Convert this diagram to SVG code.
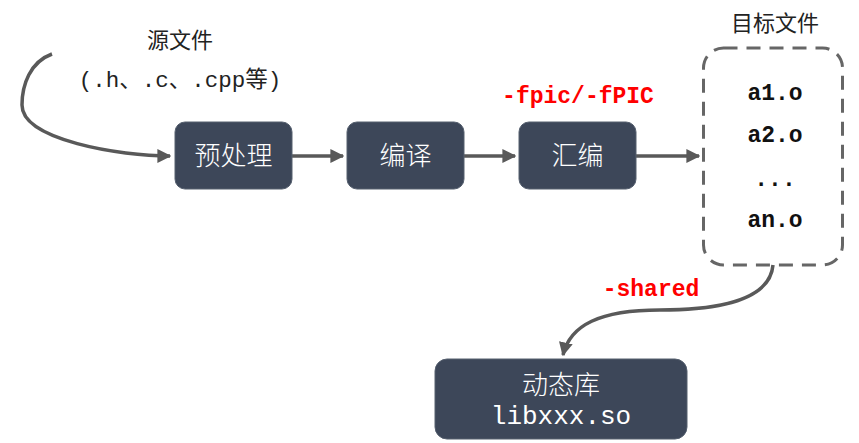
<svg xmlns="http://www.w3.org/2000/svg" width="859" height="443" viewBox="0 0 859 443">
<style>
.box{fill:#3d4759;stroke:#56606f;stroke-width:1}
.bt{fill:#ffffff;font-family:"Noto Sans CJK SC",sans-serif;font-size:26px;font-weight:300;text-anchor:middle}
.lb{fill:#222;font-family:"Noto Sans CJK SC",sans-serif;font-size:22px;text-anchor:middle}
.mono{font-family:"Liberation Mono","Noto Sans CJK SC",monospace;text-anchor:middle}
.obj{fill:#111;font-size:23px;font-weight:bold}
.red{fill:#ff0000;font-size:23px;font-weight:bold}
.ln{fill:none;stroke:#595959;stroke-width:3.5}
</style>
<defs>
<marker id="ah" viewBox="0 0 10 10" refX="9" refY="5" markerWidth="4" markerHeight="4" orient="auto" markerUnits="strokeWidth">
<path d="M0,0 L10,5 L0,10 z" fill="#595959"/>
</marker>
</defs>
<g id="connectors">
<path class="ln" d="M52,54 C30,62 22,85 22,105 C22,140 120,156 170,156" marker-end="url(#ah)"/>
<path class="ln" d="M292,156 L343,156" marker-end="url(#ah)"/>
<path class="ln" d="M464,156 L515,156" marker-end="url(#ah)"/>
<path class="ln" d="M636,156 L699,156" marker-end="url(#ah)"/>
<path class="ln" d="M773,265 C770,300 720,310 660,310 C600,310 570,325 563,355" marker-end="url(#ah)"/>
</g>
<g id="source">
<text class="lb" x="180" y="48">源文件</text>
<text class="mono" x="180" y="87" style="font-size:22.5px;fill:#222">(.h、.c、.cpp等)</text>
</g>
<g id="preprocess">
<rect class="box" x="175" y="122" width="117" height="67" rx="10"/>
<text class="bt" x="233.5" y="165">预处理</text>
</g>
<g id="compile">
<rect class="box" x="347" y="122" width="117" height="67" rx="10"/>
<text class="bt" x="405.5" y="165">编译</text>
</g>
<g id="assemble">
<rect class="box" x="519" y="122" width="117" height="67" rx="10"/>
<text class="bt" x="577.5" y="165">汇编</text>
</g>
<g id="fpic">
<text class="mono red" x="578" y="103">-fpic/-fPIC</text>
</g>
<g id="objects">
<text class="lb" x="775" y="31">目标文件</text>
<rect x="703.5" y="48" width="139" height="217" rx="20" fill="none" stroke="#666" stroke-width="3" stroke-dasharray="14,9"/>
<text class="mono obj" x="775" y="100">a1.o</text>
<text class="mono obj" x="775" y="142">a2.o</text>
<text class="mono obj" x="775" y="186">...</text>
<text class="mono obj" x="775" y="227">an.o</text>
</g>
<g id="shared">
<text class="mono red" x="651" y="296">-shared</text>
</g>
<g id="dylib">
<rect class="box" x="435" y="359" width="252" height="80" rx="12"/>
<text class="bt" x="561" y="394">动态库</text>
<text class="mono" x="561" y="424" style="font-size:26px;fill:#fff">libxxx.so</text>
</g>
</svg>
